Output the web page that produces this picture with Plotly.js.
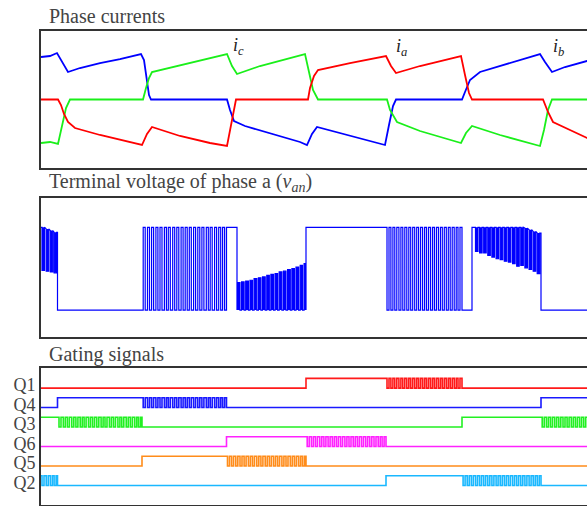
<!DOCTYPE html>
<html>
<head>
<meta charset="utf-8">
<script src="https://cdn.plot.ly/plotly-3.0.1.min.js"></script>
<style>
html, body { margin:0; padding:0; overflow:hidden; background:#fff; }
#chart { width:600px; height:506px; }
</style>
</head>
<body>
<div id="chart"></div>
<script>
// ---------- Phase currents (time t, normalized current) ----------
const iA_t = [0,17,20,23,27,34,59,84,101,106,111,139,169,186,190,195,267,269,273,277,309,345,350,355,379,420,424,428,431,502,507,512,529,546,559];
const iA_v = [0,0,-0.11,-0.29,-0.45,-0.57,-0.71,-0.83,-0.91,-0.69,-0.55,-0.73,-0.87,-0.93,-0.51,0,0,0.23,0.47,0.59,0.73,0.87,0.67,0.53,0.67,0.87,0.49,0.13,0,0,-0.25,-0.45,-0.61,-0.77,-0.81];

const iB_t = [0,9,16,19,23,27,39,59,79,95,100,103,106,108,110,186,189,193,204,229,259,266,271,276,299,324,344,348,352,355,421,424,429,439,469,499,504,511,524,546,559];
const iB_v = [0.85,0.87,0.93,0.83,0.67,0.55,0.63,0.73,0.81,0.89,0.91,0.79,0.39,0.09,0,0,-0.21,-0.43,-0.53,-0.67,-0.85,-0.91,-0.69,-0.55,-0.67,-0.81,-0.91,-0.51,-0.13,0,0,0.15,0.39,0.55,0.73,0.91,0.75,0.55,0.65,0.77,0.80];

const iC_t = [0,9,17,21,25,29,102,105,108,111,139,169,186,191,196,219,249,264,268,272,277,346,349,356,379,420,425,431,459,499,503,507,511,559];
const iC_v = [-0.87,-0.85,-0.89,-0.51,-0.17,0,0,0.23,0.43,0.55,0.69,0.83,0.91,0.67,0.51,0.67,0.83,0.91,0.55,0.19,0,0,-0.21,-0.45,-0.63,-0.87,-0.67,-0.53,-0.71,-0.93,-0.61,-0.21,0,0];

const currentLabels = ['<i>i</i><sub><i>c</i></sub>', '<i>i</i><sub><i>a</i></sub>', '<i>i</i><sub><i>b</i></sub>'];
const currentLabelT = [197, 360, 517];
const currentLabelV = [1.07, 1.05, 1.05];

// ---------- PWM switching (start times of the off-notches) ----------
const pwmNotch = [
  1.0, 5.2, 9.3, 13.1,
  18.0, 22.3, 26.4, 30.8, 34.9, 39.2, 43.1, 47.5, 51.6, 55.8, 60.1, 64.0, 68.4, 72.5, 76.9, 80.8, 85.2, 89.3, 93.6, 97.4,
  102.2, 106.5, 110.6, 114.9, 119.0, 123.4, 127.3, 131.7, 135.8, 140.1, 144.2, 148.3, 152.6, 156.8, 160.9, 165.3, 169.2, 173.6, 177.7, 181.6,
  186.5, 190.6, 194.8, 199.0, 203.1, 207.4, 211.5, 215.8, 219.9, 224.2, 228.3, 232.5, 236.6, 240.9, 245.0, 249.3, 253.4, 257.6, 261.5,
  266.2, 270.4, 274.5, 278.8, 282.9, 287.1, 291.3, 295.4, 299.6, 303.9, 308.0, 312.2, 316.3, 320.5, 324.7, 328.8, 333.0, 337.2, 341.1,
  346.0, 349.9, 353.8, 357.9, 361.8, 365.8, 369.7, 373.7, 377.6, 381.6, 385.5, 389.5, 393.4, 397.4, 401.3, 405.3, 409.2, 413.2, 417.0,
  422.1, 426.2, 430.3, 434.5, 438.6, 442.7, 446.8, 450.9, 455.1, 459.2, 463.3, 467.4, 471.6, 475.7, 479.8, 483.9, 488.1, 492.2, 496.2,
  501.2, 505.4, 509.5, 513.7, 517.8, 522.0, 526.1, 530.3, 534.4, 538.6, 542.7, 546.9, 551.0, 555.2
];
const notchWidth = 2.0;       // gate / two-level PWM off time
const notchWidthFloat = 2.5;  // floating-phase downward notches
const gapWidthBars = 1.6;     // floating-phase gaps between upward bars

// ---------- Terminal voltage of phase a ----------
const vSegT0 = [0, 16.5, 101, 185.5, 196, 265, 345, 421, 431, 500];
const vSegT1 = [16.5, 101, 185.5, 196, 265, 345, 421, 431, 500, 560];
const vSegMode = ['notchDown','low','pulseUp','high','bars','high','notchLow','low','notchDown','low'];
const envA_top = [1.00, 0.98, 0.96, 0.94];
const envA_bot = [0.48, 0.47, 0.46, 0.45];
const envD = [0.33,0.34,0.35,0.36,0.38,0.39,0.40,0.42,0.43,0.44,0.46,0.47,0.49,0.50,0.52,0.54,0.56];
const envG_top = [1,1,1,1,1,1,1,1,1,1,1,1,0.99,0.97,0.95,0.93];
const envG_bot = [0.71,0.69,0.69,0.66,0.64,0.62,0.61,0.59,0.58,0.56,0.53,0.54,0.51,0.49,0.47,0.44];

// ---------- Gating signals ----------
const gateSegT = [0, 16.5, 101, 185.5, 265, 345, 421, 500, 560];
const gateNames = ['Q1','Q4','Q3','Q6','Q5','Q2'];
const gateColors = ['#ff1a1a','#1a1aff','#22f022','#ff22ff','#ff8c1a','#1ab8ff'];
const Q1 = ['off','off','off','off','on','pwm','off','off'];
const Q4 = ['off','on','pwm','off','off','off','off','on'];
const Q3 = ['on','pwm','off','off','off','off','on','pwm'];
const Q6 = ['off','off','off','on','pwm','off','off','off'];
const Q5 = ['off','off','on','pwm','off','off','off','off'];
const Q2 = ['pwm','off','off','off','off','on','pwm','off'];
const gateStates = [Q1, Q4, Q3, Q6, Q5, Q2];

// ---------- build traces ----------
function notchesIn(t0, t1) { return pwmNotch.filter(n => n >= t0 && n < t1); }

const traces = [];
const curCol = { a:'#ff0000', b:'#0000ff', c:'#1aef1a' };
traces.push({x:iB_t, y:iB_v, mode:'lines', line:{color:curCol.b, width:1.8}, xaxis:'x', yaxis:'y'});
traces.push({x:iC_t, y:iC_v, mode:'lines', line:{color:curCol.c, width:1.8}, xaxis:'x', yaxis:'y'});
traces.push({x:iA_t, y:iA_v, mode:'lines', line:{color:curCol.a, width:1.8}, xaxis:'x', yaxis:'y'});

// voltage
const vx = [], vy = [], fx = [], fy = [];
function P(t, v) { vx.push(t); vy.push(v); }
function R(a, b, lo, hi) { fx.push(a, a, b, b, null); fy.push(lo, hi, hi, lo, null); }
for (let i = 0; i < vSegMode.length; i++) {
  const t0 = vSegT0[i], t1 = vSegT1[i], mode = vSegMode[i];
  const ns = notchesIn(t0, t1);
  if (mode === 'low') { P(t0, 0); P(t1, 0); }
  else if (mode === 'high') { P(t0, 1); P(t1, 1); }
  else if (mode === 'pulseUp') {
    P(t0, 0);
    ns.forEach(n => { P(n, 0); P(n, 1); P(n + notchWidth, 1); P(n + notchWidth, 0); });
    P(t1, 0);
  } else if (mode === 'notchLow') {
    P(t0, 1);
    ns.forEach(n => { P(n, 1); P(n, 0); P(n + notchWidth, 0); P(n + notchWidth, 1); });
    P(t1, 1);
  } else if (mode === 'notchDown') {
    const top = (i === 0) ? envA_top : envG_top;
    const bot = (i === 0) ? envA_bot : envG_bot;
    P(t0, top[0]);
    ns.forEach((n, k) => {
      P(n, top[k]); P(n, bot[k]); P(n + notchWidthFloat, bot[k]); P(n + notchWidthFloat, top[k]);
      R(n, n + notchWidthFloat, bot[k], top[k]);
    });
    P(t1, top[top.length - 1]);
  } else if (mode === 'bars') {
    const starts = [t0].concat(ns.map(n => n + gapWidthBars));
    const ends = ns.concat([t1]);
    starts.forEach((s, k) => {
      const e = ends[k], h = envD[k];
      P(s, 0); P(s, h); P(e, h); P(e, 0);
      R(s, e, 0, h);
    });
  }
}
traces.push({x:fx, y:fy, mode:'lines', fill:'toself', fillcolor:'#0000ff', line:{width:0, color:'#0000ff'}, xaxis:'x2', yaxis:'y2'});
traces.push({x:vx, y:vy, mode:'lines', line:{color:'#0000ff', width:1.2}, xaxis:'x2', yaxis:'y2'});

// gates
const gateBase = gateNames.map((_, k) => gateNames.length - 1 - k);
gateStates.forEach((st, g) => {
  const lo = gateBase[g], hi = gateBase[g] + 0.5;
  const gx = [], gy = [];
  st.forEach((s, i) => {
    const t0 = gateSegT[i], t1 = gateSegT[i + 1];
    if (s === 'off') { gx.push(t0, t1); gy.push(lo, lo); }
    else if (s === 'on') { gx.push(t0, t1); gy.push(hi, hi); }
    else {
      gx.push(t0); gy.push(hi);
      notchesIn(t0, t1).forEach(n => {
        gx.push(n, n, n + notchWidth, n + notchWidth); gy.push(hi, lo, lo, hi);
      });
      gx.push(t1); gy.push(hi);
    }
  });
  traces.push({x:gx, y:gy, mode:'lines', line:{color:gateColors[g], width:1.6}, xaxis:'x3', yaxis:'y3'});
});

const frame = {showline:true, mirror:true, linecolor:'#333', linewidth:2, ticks:'', showticklabels:false, showgrid:false, zeroline:false};
const serif = 'Liberation Serif';

const annotations = [
  {text:'Phase currents', xref:'paper', yref:'paper', x:0.010, y:0.968, xanchor:'left', yanchor:'middle', showarrow:false, font:{family:serif, size:20, color:'#444'}},
  {text:'Terminal voltage of phase a (<i>v</i><sub><i>an</i></sub>)', xref:'paper', yref:'paper', x:0.010, y:0.6397, xanchor:'left', yanchor:'middle', showarrow:false, font:{family:serif, size:20, color:'#444'}},
  {text:'Gating signals', xref:'paper', yref:'paper', x:0.010, y:0.299, xanchor:'left', yanchor:'middle', showarrow:false, font:{family:serif, size:20, color:'#444'}}
];
currentLabels.forEach((txt, k) => annotations.push({
  text: txt, xref:'x', yref:'y', x: currentLabelT[k], y: currentLabelV[k],
  showarrow:false, font:{family:serif, size:18, color:'#222'}
}));

const layout = {
  width:600, height:506,
  margin:{l:41, r:0, t:0, b:0},
  paper_bgcolor:'#fff', plot_bgcolor:'#fff',
  showlegend:false,
  font:{family:serif},
  xaxis: Object.assign({}, frame, {domain:[0,1], range:[0,559], anchor:'y'}),
  xaxis2: Object.assign({}, frame, {domain:[0,1], range:[0,559], anchor:'y2'}),
  xaxis3: Object.assign({}, frame, {domain:[0,1], range:[0,559], anchor:'y3'}),
  yaxis: Object.assign({}, frame, {domain:[0.668,0.9387], range:[-1.37,1.37], anchor:'x'}),
  yaxis2: Object.assign({}, frame, {domain:[0.334,0.6087], range:[-0.326,1.354], anchor:'x2'}),
  yaxis3: Object.assign({}, frame, {domain:[0.002,0.2727], range:[-1.0,6.03], anchor:'x3',
    showticklabels:true, tickvals: gateBase.map(b => b + 0.15), ticktext: gateNames,
    tickfont:{family:serif, size:18, color:'#444'}}),
  annotations: annotations
};

Plotly.newPlot('chart', traces, layout, {staticPlot:true, displayModeBar:false});
</script>
</body>
</html>
